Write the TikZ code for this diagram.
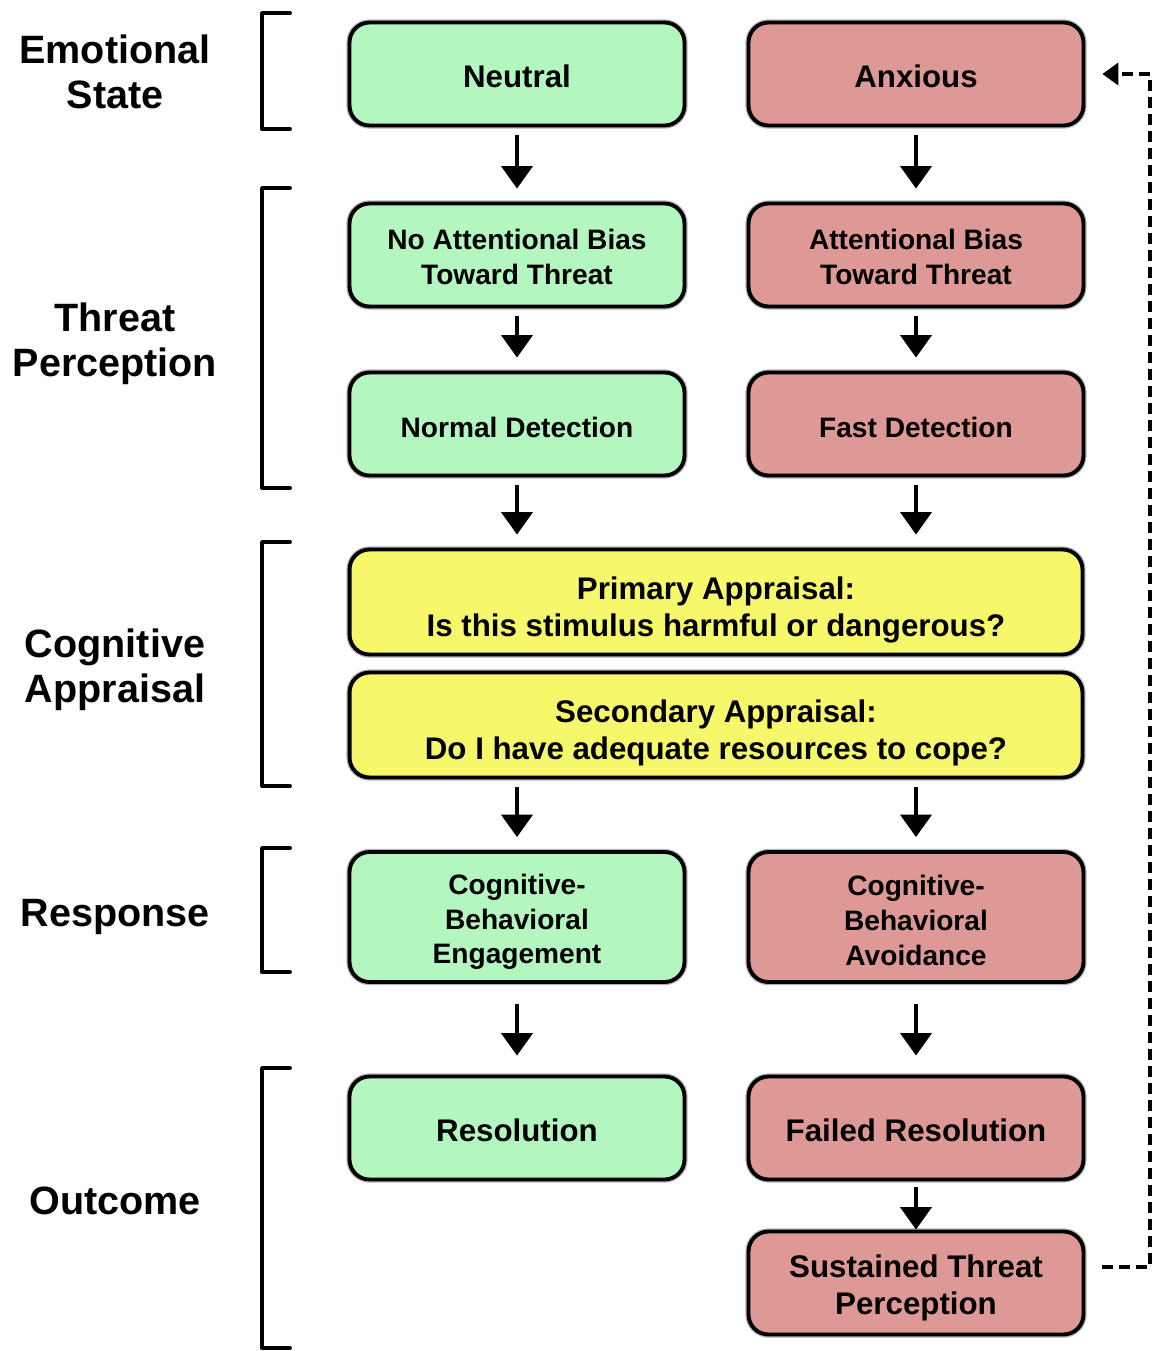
\documentclass[tikz,border=0pt]{standalone}
\usepackage{fontspec}
\setmainfont{Liberation Sans}
\usetikzlibrary{arrows.meta}

\definecolor{calmgreen}{RGB}{180,246,192}
\definecolor{anxpink}{RGB}{222,152,150}
\definecolor{appryellow}{RGB}{247,247,108}

\newcommand{\boxbig}{\fontsize{17.8}{21.5}\selectfont\bfseries}
\newcommand{\boxsmall}{\fontsize{16}{19.8}\selectfont\bfseries}
\newcommand{\sidefont}{\fontsize{22.5}{25.5}\selectfont\bfseries}

\tikzset{
  box/.style={draw=black, line width=2.2pt, rounded corners=0.4cm,
    preaction={draw=black!30, line width=3.6pt},
    minimum width=6.7cm, minimum height=2.06cm, inner sep=0pt,
    text height=16pt, align=center, font=\boxbig},
  smalltext/.style={font=\boxsmall},
  calm/.style={box, fill=calmgreen},
  anx/.style={box, fill=anxpink},
  appr/.style={box, fill=appryellow, minimum width=14.66cm, minimum height=2.1cm,
    text height=43.5pt},
  flow/.style={line width=2.3pt, -{Triangle[length=0.45cm,width=0.62cm]},
    shorten <=0.16cm, shorten >=0.26cm},
  feedback/.style={line width=2.2pt, dash pattern=on 0.22cm off 0.12cm,
    -{Triangle[length=0.32cm,width=0.44cm]}, shorten <=0.34cm, shorten >=0.34cm},
  bracket/.style={line width=2.2pt, line cap=round, line join=round},
  side/.style={align=center, font=\sidefont}
}

\begin{document}
\begin{tikzpicture}[x=0.02cm,y=-0.02cm]
\useasboundingbox (0,0) rectangle (1155,1351);

% left column
\node[calm] (neu) at (517,74) {Neutral};
\node[calm,smalltext,text height=34pt] (nobias) at (517,255) {No Attentional Bias\\Toward Threat};
\node[calm,smalltext] (normdet) at (517,424) {Normal Detection};
\node[calm,smalltext,minimum height=2.6cm,text height=56.8pt] (engage) at (517,917) {Cognitive-\\Behavioral\\Engagement};
\node[calm] (res) at (517,1128) {Resolution};

% right column
\node[anx] (anx) at (916,74) {Anxious};
\node[anx,smalltext,text height=34pt] (bias) at (916,255) {Attentional Bias\\Toward Threat};
\node[anx,smalltext] (fastdet) at (916,424) {Fast Detection};
\node[anx,smalltext,minimum height=2.6cm,text height=55pt] (avoid) at (916,917) {Cognitive-\\Behavioral\\Avoidance};
\node[anx] (fail) at (916,1128) {Failed Resolution};
\node[anx,text height=40pt] (sust) at (916,1283) {Sustained Threat\\Perception};

% appraisal
\node[appr] (prim) at (716,602) {Primary Appraisal:\\Is this stimulus harmful or dangerous?};
\node[appr] (sec) at (716,725) {Secondary Appraisal:\\Do I have adequate resources to cope?};

\draw[flow] (neu.south) -- (nobias.north);
\draw[flow] (anx.south) -- (bias.north);
\draw[flow] (nobias.south) -- (normdet.north);
\draw[flow] (bias.south) -- (fastdet.north);
\draw[flow] (normdet.south) -- (normdet.south |- prim.north);
\draw[flow] (fastdet.south) -- (fastdet.south |- prim.north);
\draw[flow] (engage.north |- sec.south) -- (engage.north);
\draw[flow] (avoid.north |- sec.south) -- (avoid.north);
\draw[flow,shorten <=0.4cm,shorten >=0.38cm] (engage.south) -- (res.north);
\draw[flow,shorten <=0.4cm,shorten >=0.38cm] (avoid.south) -- (fail.north);
\draw[flow,shorten <=0.12cm,shorten >=0pt] (fail.south) -- (sust.north);

% feedback loop
\coordinate (fb) at (1150,0);
\draw[feedback] ([yshift=0.32cm]sust.east) -- ([yshift=0.32cm]sust.east -| fb)
  -- (fb |- anx.east) -- (anx.east);

% stage brackets
\foreach \top/\bot/\mid/\txt in {13/129/72/Emotional\\State,
    188/488/344/Threat\\Perception,
    542/786/670/Cognitive\\Appraisal,
    848/972/917/Response,
    1068/1348/1201/Outcome}{
  \draw[bracket] (290,\top) -- (262,\top) -- (262,\bot) -- (290,\bot);
  \node[side] at (115,\mid) {\txt};
}
\end{tikzpicture}
\end{document}
